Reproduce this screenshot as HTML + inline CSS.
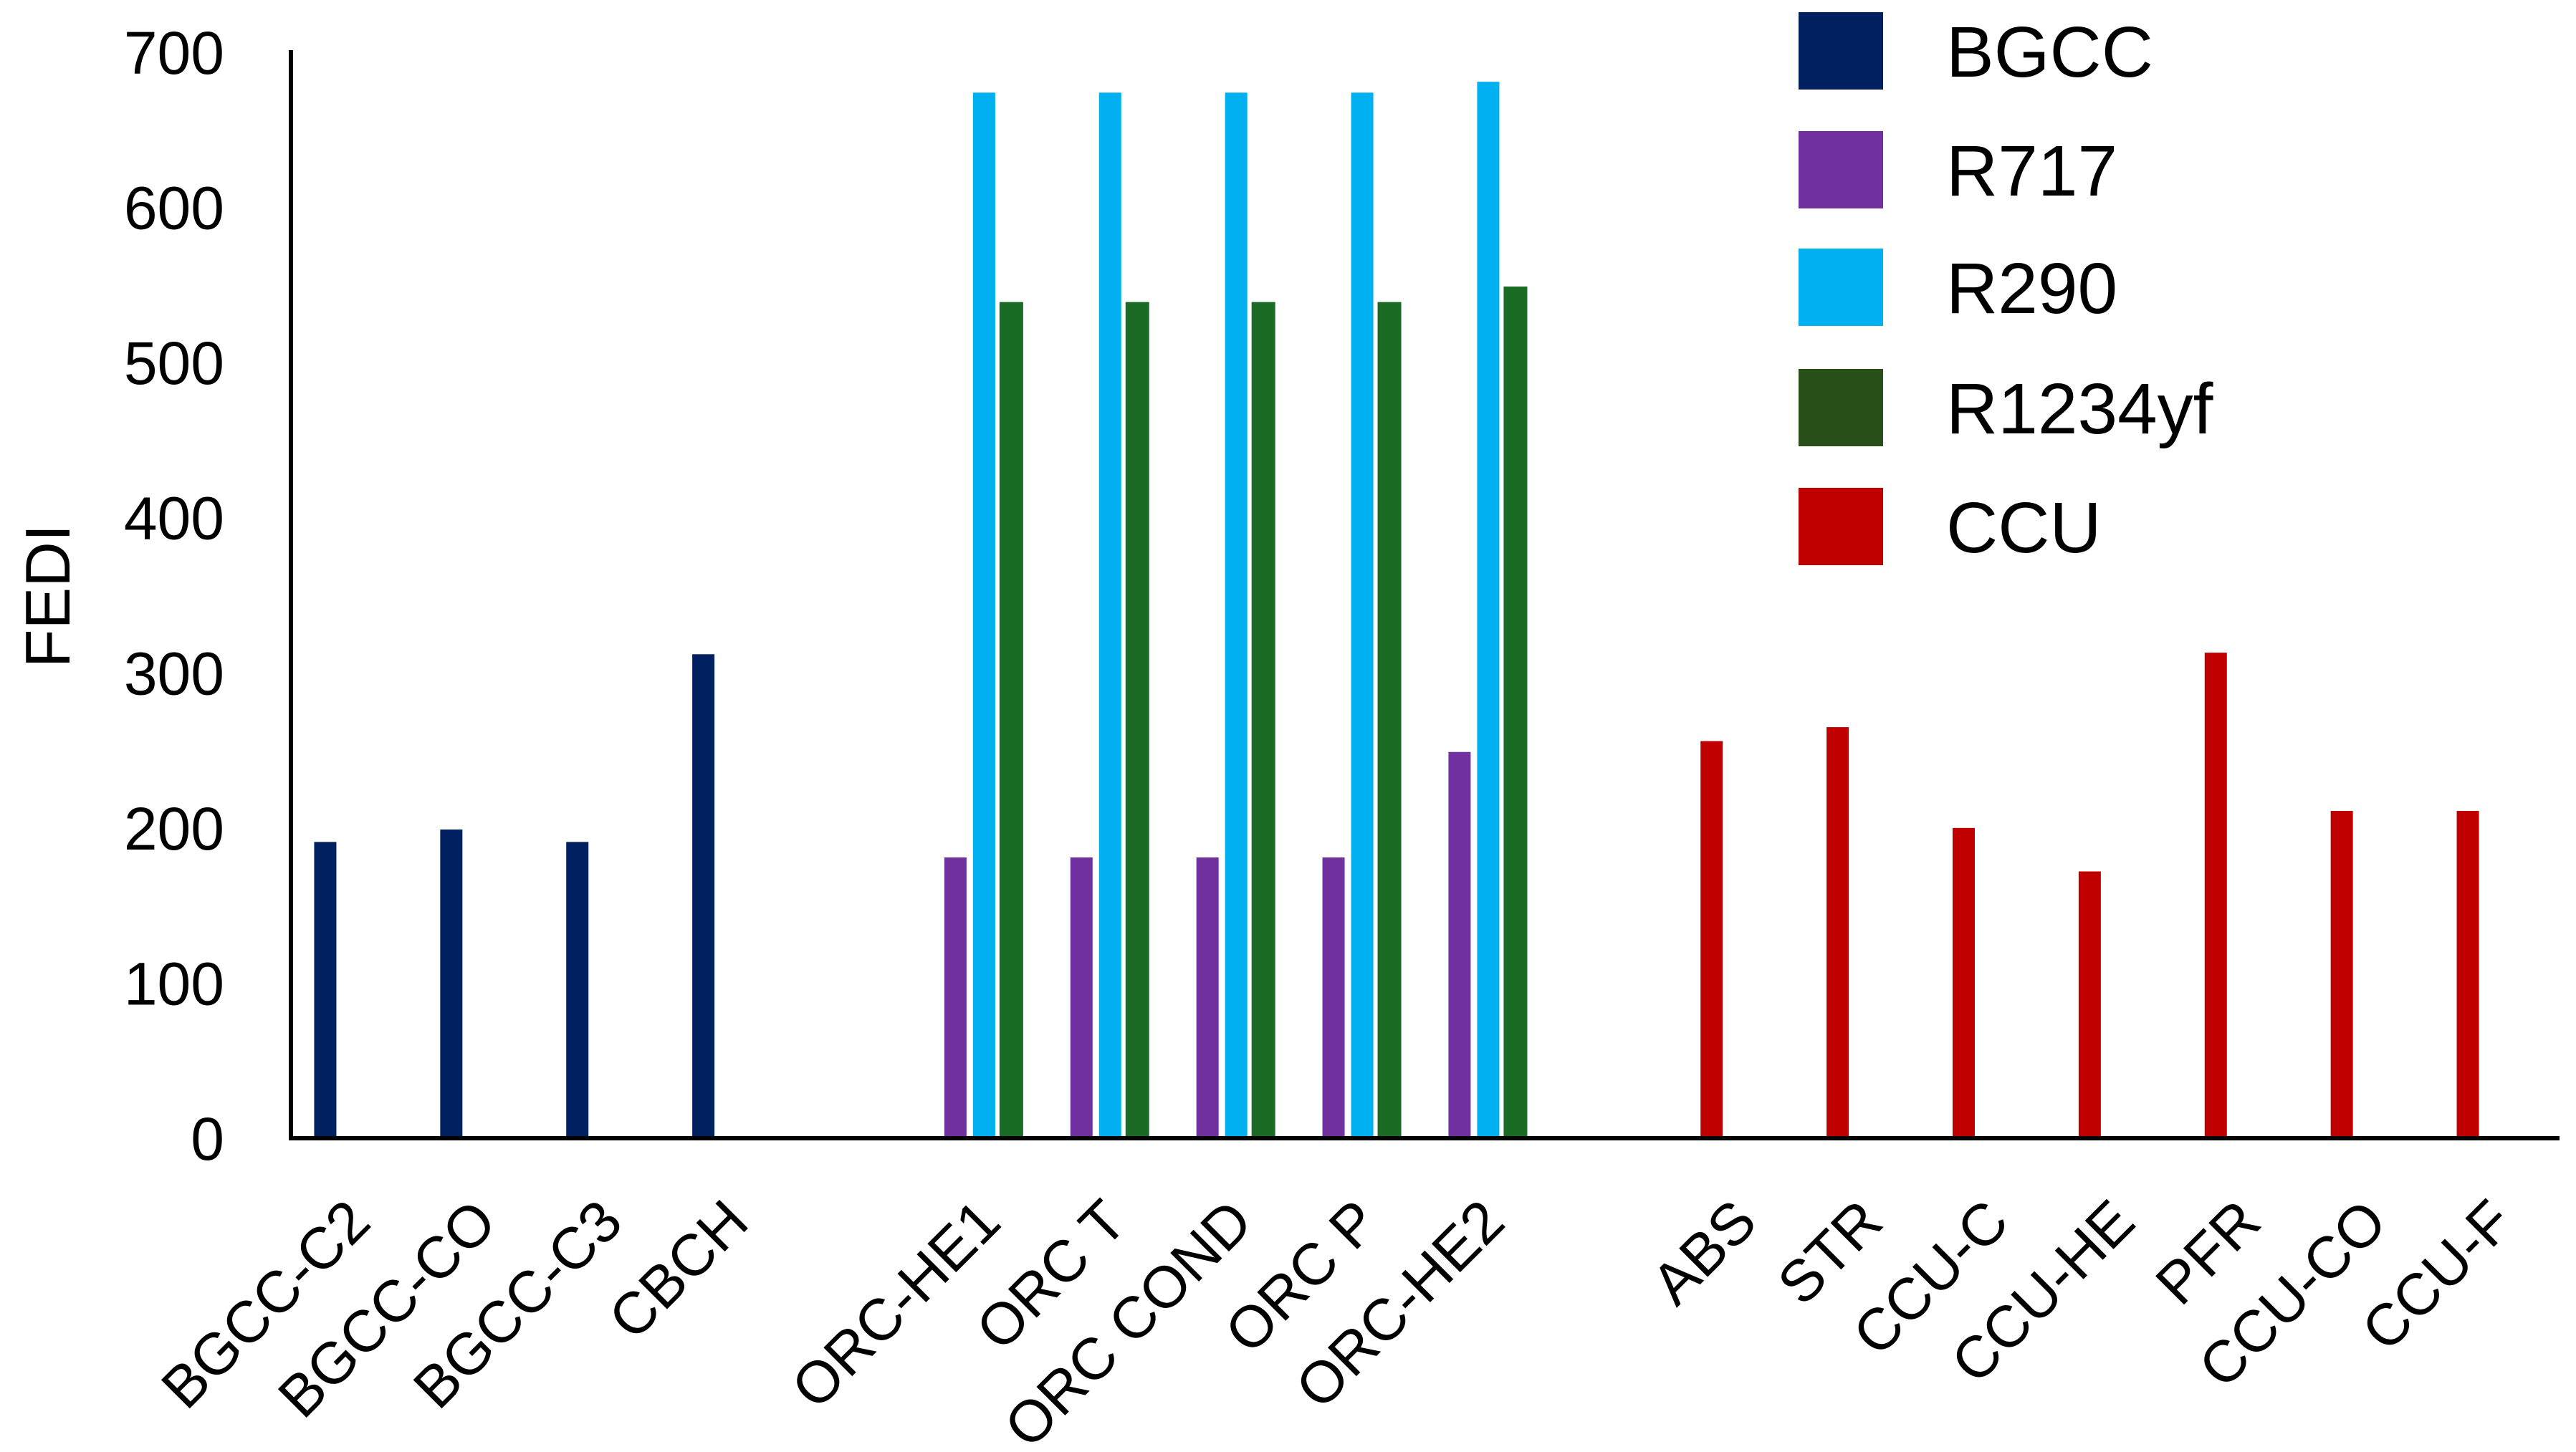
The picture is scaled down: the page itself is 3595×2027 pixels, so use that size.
<!DOCTYPE html>
<html><head><meta charset="utf-8"><style>
html,body{margin:0;padding:0;background:#fff;}
svg{display:block;font-family:"Liberation Sans",Arial,sans-serif;}
</style></head><body>
<svg id="chart" width="3595" height="2027" viewBox="0 0 3595 2027">
<g id="bars"></g>
<g id="axes"></g>
<g id="legend"></g>
</svg>
<script>
const categories = ["BGCC-C2","BGCC-CO","BGCC-C3","CBCH","","ORC-HE1","ORC T","ORC COND","ORC P","ORC-HE2","","ABS","STR","CCU-C","CCU-HE","PFR","CCU-CO","CCU-F"];
const seriesNames = ["BGCC","R717","R290","R1234yf","CCU"];
const bgccValues = [191,199,191,312,null,null,null,null,null,null,null,null,null,null,null,null,null,null];
const r717Values = [null,null,null,null,null,181,181,181,181,249,null,null,null,null,null,null,null,null];
const r290Values = [null,null,null,null,null,674,674,674,674,681,null,null,null,null,null,null,null,null];
const r1234yfValues = [null,null,null,null,null,539,539,539,539,549,null,null,null,null,null,null,null,null];
const ccuValues = [null,null,null,null,null,null,null,null,null,null,null,256,265,200,172,313,211,211];
const yTicks = [0,100,200,300,400,500,600,700];

const NS = "http://www.w3.org/2000/svg";
const X0 = 406, X1 = 3572, Y0 = 1589, YTOP = 73, YMAX = 700;
const band = (X1 - X0) / categories.length;
const xCenter = i => X0 + (i + 0.5) * band;
const yScale = v => Y0 - v / YMAX * (Y0 - YTOP);
const slotOffset = [-40, -40, 0, 38, -40];
const barW = [31, 31, 31, 33, 31];
const barColors = ["#002060","#7030A0","#00B0F0","#1A6B24","#C00000"];
const legendColors = ["#002060","#7030A0","#00B0F0","#284F18","#C00000"];
const allSeries = [bgccValues, r717Values, r290Values, r1234yfValues, ccuValues];

function mk(tag, attrs, parent){
  const el = document.createElementNS(NS, tag);
  for (const k in attrs) el.setAttribute(k, attrs[k]);
  parent.appendChild(el);
  return el;
}
const gb = document.getElementById('bars');
allSeries.forEach((vals, s) => {
  vals.forEach((v, i) => {
    if (v === null) return;
    const cx = xCenter(i) + slotOffset[s];
    const r = mk('rect', {x: cx - barW[s]/2, y: yScale(v), width: barW[s], height: Y0 - yScale(v), fill: barColors[s]}, gb);
    
    
  });
});

const ga = document.getElementById('axes');
const yl = mk('line', {x1: X0, y1: YTOP - 3, x2: X0, y2: Y0 + 3, stroke: '#000', 'stroke-width': 6}, ga);


const xl = mk('line', {x1: X0 - 3, y1: Y0, x2: X1, y2: Y0, stroke: '#000', 'stroke-width': 6}, ga);


yTicks.forEach(t => {
  const tx = mk('text', {x: 313, y: yScale(t) + 30, 'text-anchor': 'end', 'font-size': 84, fill: '#000'}, ga);
  tx.textContent = t;
  
  
});
categories.forEach((c, i) => {
  if (!c) return;
  const ax = xCenter(i) + 27, ay = 1710;
  const tx = mk('text', {x: ax, y: ay, 'text-anchor': 'end', 'font-size': 82, fill: '#000', transform: `rotate(-45 ${ax} ${ay})`}, ga);
  tx.textContent = c;
  
  
});
const yt = mk('text', {x: 0, y: 0, 'text-anchor': 'middle', 'font-size': 88, fill: '#000', transform: 'translate(97 832) rotate(-90)'}, ga);
yt.textContent = 'FEDI';



const gl = document.getElementById('legend');
const legendY = [71, 237, 401, 569, 735];
seriesNames.forEach((n, s) => {
  const g = mk('g', {}, gl);
  
  
  const sw = mk('rect', {x: 2510, y: legendY[s] - 54, width: 118, height: 108, fill: legendColors[s]}, g);
  
  
  const tx = mk('text', {x: 2716, y: legendY[s] + 36, 'font-size': 100, fill: '#000'}, g);
  tx.textContent = n;
  
  
});
</script>
</body></html>
